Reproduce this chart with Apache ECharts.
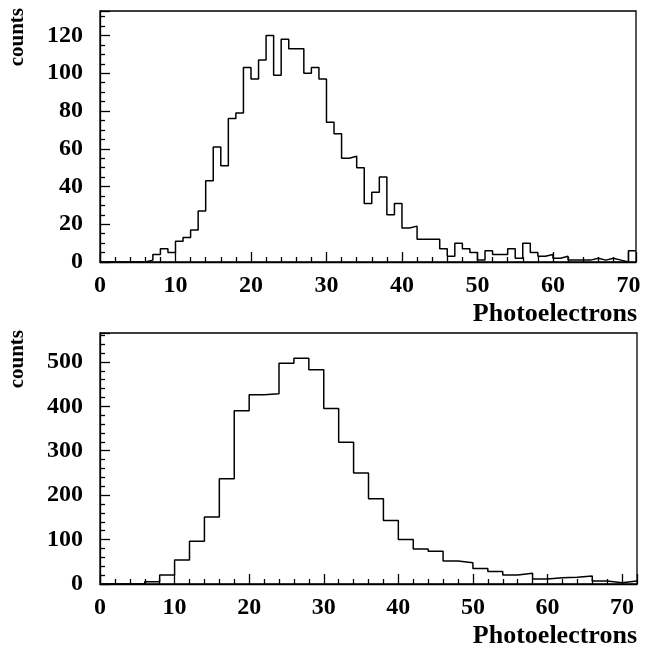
<!DOCTYPE html>
<html>
<head>
<meta charset="utf-8">
<script src="https://cdn.jsdelivr.net/npm/echarts@6/dist/echarts.min.js"></script>
<style>
html,body{margin:0;padding:0;background:#fff;}
#chart{width:645px;height:650px;}
</style>
</head>
<body>
<div id="chart"></div>
<script>
// ---- Data ----
// Top histogram: bins of width 1 starting at 0 (0..71)
var topBinStart = 0;
var topBinWidth = 1;
var topCounts = [
  0, 0, 0, 0, 0, 0, 1, 4, 7, 5,
  11, 13, 17, 27, 43, 61, 51, 76, 79, 103,
  97, 107, 120, 99, 118, 113, 113, 100, 103, 97,
  74, 68, 55, 56, 50, 31, 37, 45, 25, 31,
  18, 19, 12, 12, 12, 7, 3, 10, 7, 5,
  1, 6, 4, 4, 7, 2, 10, 5, 3, 4,
  2, 3, 1, 1, 1, 2, 1, 2, 1, 0,
  6
];
// Bottom histogram: bins of width 2 starting at 0 (0..72)
var bottomBinStart = 0;
var bottomBinWidth = 2;
var bottomCounts = [
  0, 0, 0, 5, 20, 54, 96, 151, 237, 390,
  426, 428, 497, 508, 482, 395, 319, 250, 192, 143,
  100, 79, 74, 52, 48, 35, 28, 20, 24, 11,
  14, 15, 18, 7, 3, 7
];
var xTickLabels = [0, 10, 20, 30, 40, 50, 60, 70];
var topYTickLabels = [0, 20, 40, 60, 80, 100, 120];
var bottomYTickLabels = [0, 100, 200, 300, 400, 500];
var xTitle = 'Photoelectrons';
var yTitle = 'counts';

function histPoints(start, width, counts) {
  var pts = counts.map(function (c, i) { return [start + i * width, c]; });
  pts.push([start + counts.length * width, counts[counts.length - 1]]);
  return pts;
}

var FONT = '"Liberation Serif", "Times New Roman", serif';
var labelStyle = { fontFamily: FONT, fontWeight: 'bold', fontSize: 24, color: '#000' };

function xAxisCfg(gridIndex, max, labels) {
  return {
    type: 'value', gridIndex: gridIndex, min: 0, max: max, interval: 10,
    axisLine: { show: true, onZero: false, lineStyle: { color: '#000', width: 1.3 } },
    axisTick: { show: true, inside: true, length: 10, lineStyle: { color: '#000', width: 1.3 } },
    minorTick: { show: true, splitNumber: 5, length: 5, lineStyle: { color: '#000', width: 1.3 } },
    splitLine: { show: false },
    axisLabel: Object.assign({}, labelStyle, {
      margin: 12, showMaxLabel: false,
      formatter: function (v) { return labels.indexOf(v) >= 0 ? String(v) : ''; }
    })
  };
}
function yAxisCfg(gridIndex, max, interval, minorSplit, labels) {
  return {
    type: 'value', gridIndex: gridIndex, min: 0, max: max, interval: interval,
    axisLine: { show: true, lineStyle: { color: '#000', width: 1.3 } },
    axisTick: { show: true, inside: true, length: 10, lineStyle: { color: '#000', width: 1.3 } },
    minorTick: { show: true, splitNumber: minorSplit, length: 5, lineStyle: { color: '#000', width: 1.3 } },
    splitLine: { show: false },
    axisLabel: Object.assign({}, labelStyle, {
      margin: 17, showMaxLabel: false,
      formatter: function (v) { return labels.indexOf(v) >= 0 ? String(v) : ''; }
    })
  };
}

var chart = echarts.init(document.getElementById('chart'), null, { renderer: 'canvas' });
chart.setOption({
  animation: false,
  backgroundColor: '#fff',
  grid: [
    { left: 100, top: 11, width: 536, height: 251, show: true, borderColor: '#000', borderWidth: 1.3, backgroundColor: 'transparent' },
    { left: 100, top: 333, width: 537, height: 251, show: true, borderColor: '#000', borderWidth: 1.3, backgroundColor: 'transparent' }
  ],
  xAxis: [
    xAxisCfg(0, 71, xTickLabels),
    xAxisCfg(1, 72, xTickLabels)
  ],
  yAxis: [
    yAxisCfg(0, 133, 20, 4, topYTickLabels),
    yAxisCfg(1, 565, 100, 5, bottomYTickLabels)
  ],
  series: [
    {
      type: 'line', xAxisIndex: 0, yAxisIndex: 0, step: 'end', showSymbol: false, symbol: 'none',
      lineStyle: { color: '#000', width: 1.5 },
      data: histPoints(topBinStart, topBinWidth, topCounts)
    },
    {
      type: 'line', xAxisIndex: 1, yAxisIndex: 1, step: 'end', showSymbol: false, symbol: 'none',
      lineStyle: { color: '#000', width: 1.5 },
      data: histPoints(bottomBinStart, bottomBinWidth, bottomCounts)
    }
  ],
  graphic: [
    { type: 'text', x: 18, y: 8, rotation: Math.PI / 2,
      style: { text: yTitle, fontFamily: FONT, fontWeight: 'bold', fontSize: 21, fill: '#000', align: 'right', verticalAlign: 'middle' } },
    { type: 'text', x: 18, y: 330, rotation: Math.PI / 2,
      style: { text: yTitle, fontFamily: FONT, fontWeight: 'bold', fontSize: 21, fill: '#000', align: 'right', verticalAlign: 'middle' } },
    { type: 'text', x: 637, y: 314,
      style: { text: xTitle, fontFamily: FONT, fontWeight: 'bold', fontSize: 26, fill: '#000', align: 'right', verticalAlign: 'middle' } },
    { type: 'text', x: 637, y: 636,
      style: { text: xTitle, fontFamily: FONT, fontWeight: 'bold', fontSize: 26, fill: '#000', align: 'right', verticalAlign: 'middle' } }
  ]
});
</script>
</body>
</html>
